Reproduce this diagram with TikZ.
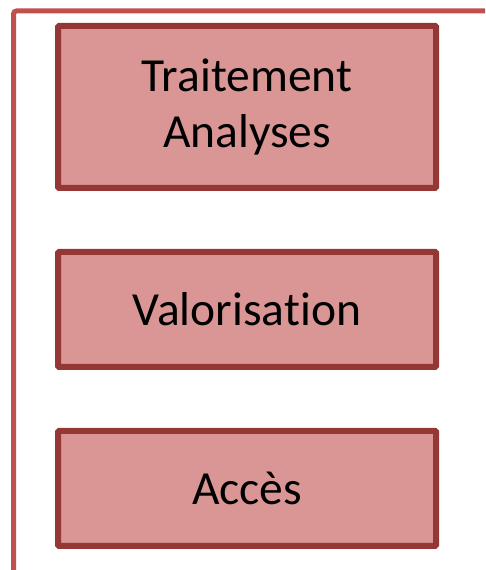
\documentclass[tikz,border=0pt]{standalone}
\usepackage{fontspec}
\setmainfont{Carlito}[Ligatures={NoCommon}]
\definecolor{outerred}{HTML}{C0504D}
\definecolor{boxfill}{HTML}{D99694}
\definecolor{boxdraw}{HTML}{953735}
\begin{document}
\begin{tikzpicture}[x=1pt,y=1pt,
  stagebox/.style={draw=boxdraw,fill=boxfill,line width=6pt,rounded corners=1pt,
    minimum width=378pt,inner sep=0pt,align=center,
    font=\fontsize{47.5}{56}\selectfont,text=black}]
\useasboundingbox (0,0) rectangle (485,570);
\coordinate (ostart) at (13.5,0);
\coordinate (oend) at (485,559);
\draw[outerred,line width=5pt,rounded corners=3pt] (ostart) |- (oend);
\node[stagebox,minimum height=162pt] (trait) at (247,463) {Traitement\\Analyses};
\node[stagebox,minimum height=115pt] (valo) at (247,260.5) {Valorisation};
\node[stagebox,minimum height=115pt] (acces) at (247,81.5) {Accès};
\end{tikzpicture}
\end{document}
